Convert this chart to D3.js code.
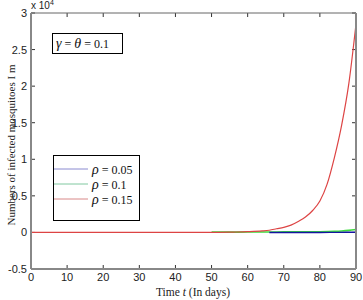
<!DOCTYPE html>
<html><head><meta charset="utf-8">
<script src="https://cdn.jsdelivr.net/npm/d3@7"></script>
<style>body{margin:0;background:#fff}svg{display:block}</style>
</head><body>
<svg id="c" width="363" height="300"></svg>
<script>
const xTicks = [0,10,20,30,40,50,60,70,80,90];
const yTicks = [-0.5,0,0.5,1,1.5,2,2.5,3];
const yTickLabels = ["-0.5","0","0.5","1","1.5","2","2.5","3"];
const legendLabels = ["0.05","0.1","0.15"];
// rho = 0.15 (red)
const redT = [0,50,56,60,64,66,68,70,72,74,76,78,80,82,84,86,88,90];
const redV = [0,0,0.005,0.01,0.02,0.03,0.05,0.07,0.1,0.15,0.21,0.3,0.43,0.66,1.02,1.46,2.03,2.85];
// rho = 0.1 (green)
const greenT = [50,55,60,66,70,75,80,84,86,88,90];
const greenV = [0.004,0.004,0.005,0.006,0.007,0.008,0.01,0.015,0.02,0.028,0.04];
// rho = 0.05 (blue)
const blueT = [66,70,75,80,85,90];
const blueV = [0,0,0,0,0.001,0.003];

const svg = d3.select("#c");
const L=31,R=356,T=13,B=269;
const x = d3.scaleLinear().domain([0,90]).range([L,R]);
const y = d3.scaleLinear().domain([-0.5,3]).range([B,T]);

const g = svg.append("g");
xTicks.forEach(t=>{
  g.append("line").attr("x1",x(t)).attr("x2",x(t)).attr("y1",B).attr("y2",B-4).attr("stroke","#333");
  g.append("line").attr("x1",x(t)).attr("x2",x(t)).attr("y1",T).attr("y2",T+4).attr("stroke","#333");
  g.append("text").attr("x",x(t)).attr("y",B+12).attr("text-anchor","middle")
   .attr("font-family","Liberation Sans, Arial").attr("font-size",11).attr("fill","#222").text(t);
});
yTicks.forEach((t,i)=>{
  g.append("line").attr("x1",L).attr("x2",L+4).attr("y1",y(t)).attr("y2",y(t)).attr("stroke","#333");
  g.append("line").attr("x1",R).attr("x2",R-4).attr("y1",y(t)).attr("y2",y(t)).attr("stroke","#333");
  g.append("text").attr("x",L-4).attr("y",y(t)+4).attr("text-anchor","end")
   .attr("font-family","Liberation Sans, Arial").attr("font-size",11).attr("fill","#222").text(yTickLabels[i]);
});

const line = d3.line().curve(d3.curveMonotoneX).x(d=>x(d[0])).y(d=>y(d[1]));
const mk=(ts,vs)=>ts.map((t,i)=>[t,vs[i]]);
svg.append("clipPath").attr("id","cp").append("rect").attr("x",L).attr("y",T).attr("width",R-L).attr("height",B-T);
const pg = svg.append("g").attr("clip-path","url(#cp)");
pg.append("path").attr("d",line(mk(greenT,greenV))).attr("fill","none").attr("stroke","#3ddc3d").attr("stroke-width",1.6);
pg.append("path").attr("d",line(mk(blueT,blueV))).attr("fill","none").attr("stroke","#1414a0").attr("stroke-width",1.4);
pg.append("path").attr("d",line(mk(redT,redV))).attr("fill","none").attr("stroke","#dd4444").attr("stroke-width",1.2);

svg.append("line").attr("x1",L).attr("x2",R).attr("y1",T).attr("y2",T).attr("stroke","#666").attr("stroke-width",1);
svg.append("line").attr("x1",L).attr("x2",L).attr("y1",T).attr("y2",B).attr("stroke","#888").attr("stroke-width",2);
svg.append("line").attr("x1",L).attr("x2",R).attr("y1",B).attr("y2",B).attr("stroke","#888").attr("stroke-width",2);
svg.append("line").attr("x1",R).attr("x2",R).attr("y1",T).attr("y2",B).attr("stroke","#888").attr("stroke-width",2);

const ex = svg.append("text").attr("x",31).attr("y",9).attr("font-family","Liberation Sans, Arial").attr("font-size",10).attr("fill","#222");
ex.append("tspan").text("x 10");
ex.append("tspan").attr("dy",-4).attr("font-size",7).text("4");

const xl = svg.append("text").attr("x",193).attr("y",296).attr("text-anchor","middle")
  .attr("font-family","Liberation Serif, Times New Roman").attr("font-size",11.5).attr("fill","#222");
xl.append("tspan").text("Time ");
xl.append("tspan").attr("font-style","italic").text("t");
xl.append("tspan").text(" (In days)");
svg.append("text").attr("transform","translate(15,145) rotate(-90)").attr("text-anchor","middle")
  .attr("font-family","Liberation Serif, Times New Roman").attr("font-size",11).attr("fill","#222")
  .text("Numbers of infected mosquitoes  I m");

svg.append("rect").attr("x",52.5).attr("y",33.5).attr("width",70).attr("height",20).attr("fill","#fff").attr("stroke","#000");
const an = svg.append("text").attr("x",56).attr("y",48).attr("font-family","Liberation Serif, Times New Roman").attr("font-size",14).attr("fill","#111");
an.append("tspan").attr("font-style","italic").text("γ");
an.append("tspan").attr("font-size",12).text(" = ");
an.append("tspan").attr("font-style","italic").text("θ");
an.append("tspan").attr("font-size",12).text(" = 0.1");

svg.append("rect").attr("x",53.5).attr("y",155.5).attr("width",86).attr("height",65).attr("fill","#fff").attr("stroke","#000");
const lc = ["#8a8ad0","#80c8a0","#d88888"];
legendLabels.forEach((lab,i)=>{
  const yy = [169,184,199][i];
  svg.append("line").attr("x1",54).attr("x2",88).attr("y1",yy).attr("y2",yy).attr("stroke",lc[i]).attr("stroke-width",1);
  const t = svg.append("text").attr("x",92).attr("y",yy+5).attr("font-family","Liberation Serif, Times New Roman").attr("font-size",14).attr("fill","#111");
  t.append("tspan").attr("font-style","italic").text("ρ");
  t.append("tspan").attr("font-size",12).text(" = "+lab);
});
</script>
</body></html>
